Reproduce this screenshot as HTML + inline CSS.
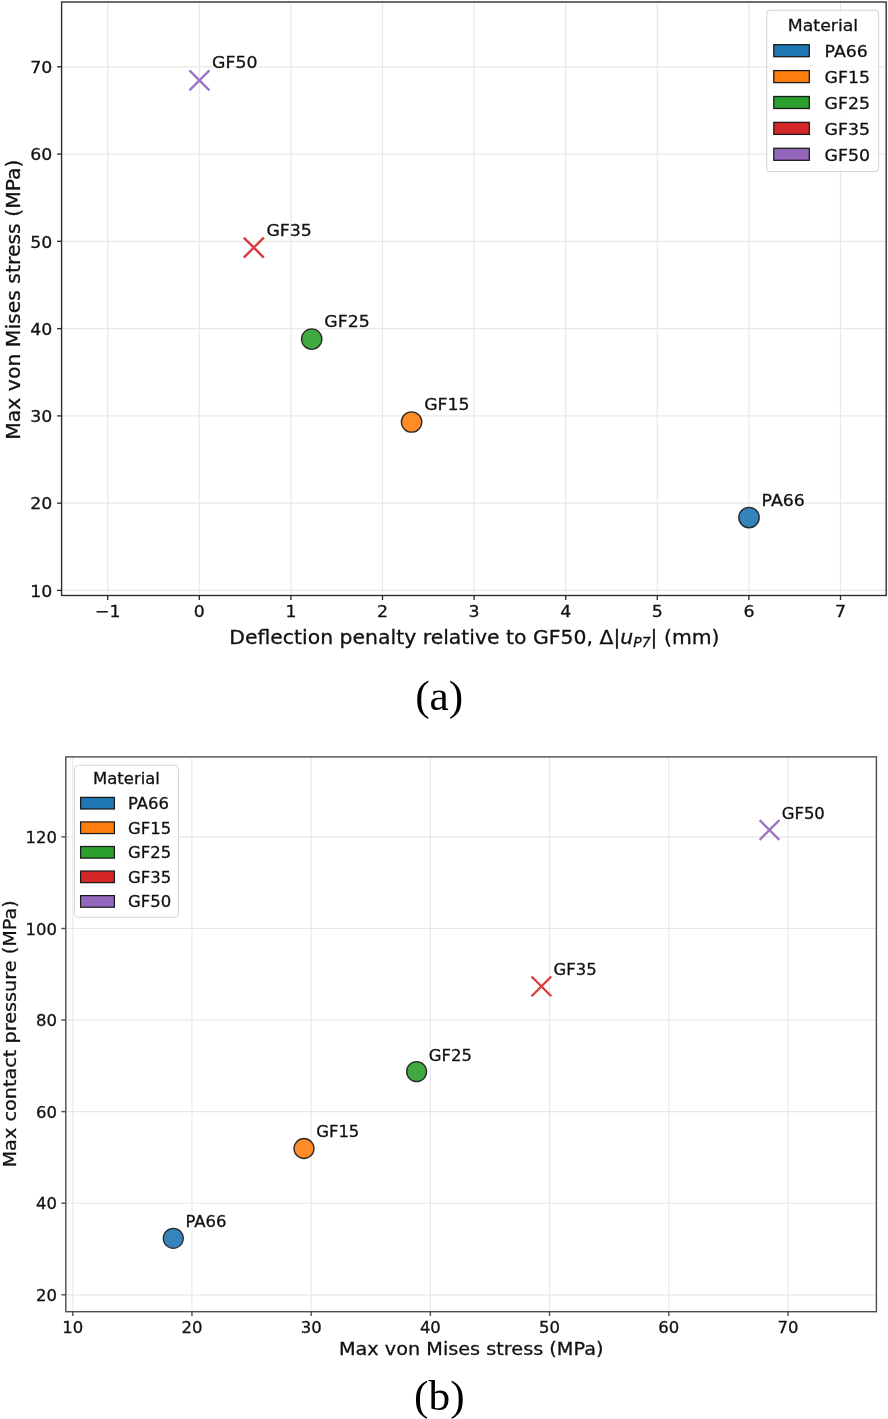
<!DOCTYPE html>
<html lang="en"><head><meta charset="utf-8"><title>Figure</title>
<style>html,body{margin:0;padding:0;background:#fff}svg{display:block}text{font-family:'DejaVu Sans', 'Liberation Sans', sans-serif}</style></head><body>
<svg width="888" height="1419" viewBox="0 0 888 1419">
<defs><filter id="soft" x="0" y="0" width="100%" height="100%" filterUnits="userSpaceOnUse" color-interpolation-filters="sRGB"><feGaussianBlur stdDeviation="0.4"/></filter></defs>
<rect width="888" height="1419" fill="#fff"/>
<g filter="url(#soft)">
<rect width="888" height="1419" fill="#fff"/>
<g id="chart-a">
<line x1="107.7" y1="2.0" x2="107.7" y2="595.5" stroke="#e8e8e8" stroke-width="1.2"/>
<line x1="199.3" y1="2.0" x2="199.3" y2="595.5" stroke="#e8e8e8" stroke-width="1.2"/>
<line x1="290.9" y1="2.0" x2="290.9" y2="595.5" stroke="#e8e8e8" stroke-width="1.2"/>
<line x1="382.5" y1="2.0" x2="382.5" y2="595.5" stroke="#e8e8e8" stroke-width="1.2"/>
<line x1="474.1" y1="2.0" x2="474.1" y2="595.5" stroke="#e8e8e8" stroke-width="1.2"/>
<line x1="565.7" y1="2.0" x2="565.7" y2="595.5" stroke="#e8e8e8" stroke-width="1.2"/>
<line x1="657.3" y1="2.0" x2="657.3" y2="595.5" stroke="#e8e8e8" stroke-width="1.2"/>
<line x1="748.9" y1="2.0" x2="748.9" y2="595.5" stroke="#e8e8e8" stroke-width="1.2"/>
<line x1="840.5" y1="2.0" x2="840.5" y2="595.5" stroke="#e8e8e8" stroke-width="1.2"/>
<line x1="61.6" y1="590.42" x2="886.2" y2="590.42" stroke="#e8e8e8" stroke-width="1.2"/>
<line x1="61.6" y1="503.15" x2="886.2" y2="503.15" stroke="#e8e8e8" stroke-width="1.2"/>
<line x1="61.6" y1="415.88" x2="886.2" y2="415.88" stroke="#e8e8e8" stroke-width="1.2"/>
<line x1="61.6" y1="328.61" x2="886.2" y2="328.61" stroke="#e8e8e8" stroke-width="1.2"/>
<line x1="61.6" y1="241.34" x2="886.2" y2="241.34" stroke="#e8e8e8" stroke-width="1.2"/>
<line x1="61.6" y1="154.07" x2="886.2" y2="154.07" stroke="#e8e8e8" stroke-width="1.2"/>
<line x1="61.6" y1="66.8" x2="886.2" y2="66.8" stroke="#e8e8e8" stroke-width="1.2"/>
<circle cx="749" cy="517.5" r="10.2" fill="#1f77b4" fill-opacity="0.9" stroke="#1a1a1a" stroke-opacity="0.9" stroke-width="1.35"/>
<text transform="translate(761.6 505.5) scale(1 0.955)" font-size="17.33" fill="#111" stroke="#111" stroke-width="0.3">PA66</text>
<circle cx="411.6" cy="422" r="10.2" fill="#ff7f0e" fill-opacity="0.9" stroke="#1a1a1a" stroke-opacity="0.9" stroke-width="1.35"/>
<text transform="translate(424.2 410.0) scale(1 0.955)" font-size="17.33" fill="#111" stroke="#111" stroke-width="0.3">GF15</text>
<circle cx="311.7" cy="339.1" r="10.2" fill="#2ca02c" fill-opacity="0.9" stroke="#1a1a1a" stroke-opacity="0.9" stroke-width="1.35"/>
<text transform="translate(324.3 327.1) scale(1 0.955)" font-size="17.33" fill="#111" stroke="#111" stroke-width="0.3">GF25</text>
<path d="M243.8 237.6L263.8 257.6M243.8 257.6L263.8 237.6" stroke="#d62728" stroke-opacity="0.9" stroke-width="2.4" fill="none" stroke-linecap="butt"/>
<text transform="translate(266.4 235.6) scale(1 0.955)" font-size="17.33" fill="#111" stroke="#111" stroke-width="0.3">GF35</text>
<path d="M189.4 70.4L209.4 90.4M189.4 90.4L209.4 70.4" stroke="#9467bd" stroke-opacity="0.9" stroke-width="2.4" fill="none" stroke-linecap="butt"/>
<text transform="translate(212.0 68.4) scale(1 0.955)" font-size="17.33" fill="#111" stroke="#111" stroke-width="0.3">GF50</text>
<rect x="766.7" y="10.2" width="111.9" height="161.3" rx="3.5" fill="#fff" fill-opacity="0.8" stroke="#cccccc" stroke-opacity="0.8" stroke-width="1.07"/>
<text transform="translate(823 31.1) scale(1 0.955)" font-size="17.33" fill="#111" stroke="#111" stroke-width="0.3" text-anchor="middle">Material</text>
<rect x="773.8" y="44.7" width="35.5" height="12" fill="#1f77b4" stroke="#1a1a1a" stroke-width="1.3"/>
<text transform="translate(824.6 56.9) scale(1 0.955)" font-size="17.33" fill="#111" stroke="#111" stroke-width="0.3">PA66</text>
<rect x="773.8" y="70.6" width="35.5" height="12" fill="#ff7f0e" stroke="#1a1a1a" stroke-width="1.3"/>
<text transform="translate(824.6 82.8) scale(1 0.955)" font-size="17.33" fill="#111" stroke="#111" stroke-width="0.3">GF15</text>
<rect x="773.8" y="96.5" width="35.5" height="12" fill="#2ca02c" stroke="#1a1a1a" stroke-width="1.3"/>
<text transform="translate(824.6 108.7) scale(1 0.955)" font-size="17.33" fill="#111" stroke="#111" stroke-width="0.3">GF25</text>
<rect x="773.8" y="122.39999999999999" width="35.5" height="12" fill="#d62728" stroke="#1a1a1a" stroke-width="1.3"/>
<text transform="translate(824.6 134.6) scale(1 0.955)" font-size="17.33" fill="#111" stroke="#111" stroke-width="0.3">GF35</text>
<rect x="773.8" y="148.3" width="35.5" height="12" fill="#9467bd" stroke="#1a1a1a" stroke-width="1.3"/>
<text transform="translate(824.6 160.5) scale(1 0.955)" font-size="17.33" fill="#111" stroke="#111" stroke-width="0.3">GF50</text>
<rect x="61.6" y="2.0" width="824.6" height="593.5" fill="none" stroke="#2a2a2a" stroke-width="1.35"/>
<line x1="107.7" y1="595.5" x2="107.7" y2="600.0" stroke="#2a2a2a" stroke-width="1.35"/>
<text transform="translate(107.7 617.4) scale(1 0.955)" font-size="17.33" fill="#111" stroke="#111" stroke-width="0.3" text-anchor="middle">−1</text>
<line x1="199.3" y1="595.5" x2="199.3" y2="600.0" stroke="#2a2a2a" stroke-width="1.35"/>
<text transform="translate(199.3 617.4) scale(1 0.955)" font-size="17.33" fill="#111" stroke="#111" stroke-width="0.3" text-anchor="middle">0</text>
<line x1="290.9" y1="595.5" x2="290.9" y2="600.0" stroke="#2a2a2a" stroke-width="1.35"/>
<text transform="translate(290.9 617.4) scale(1 0.955)" font-size="17.33" fill="#111" stroke="#111" stroke-width="0.3" text-anchor="middle">1</text>
<line x1="382.5" y1="595.5" x2="382.5" y2="600.0" stroke="#2a2a2a" stroke-width="1.35"/>
<text transform="translate(382.5 617.4) scale(1 0.955)" font-size="17.33" fill="#111" stroke="#111" stroke-width="0.3" text-anchor="middle">2</text>
<line x1="474.1" y1="595.5" x2="474.1" y2="600.0" stroke="#2a2a2a" stroke-width="1.35"/>
<text transform="translate(474.1 617.4) scale(1 0.955)" font-size="17.33" fill="#111" stroke="#111" stroke-width="0.3" text-anchor="middle">3</text>
<line x1="565.7" y1="595.5" x2="565.7" y2="600.0" stroke="#2a2a2a" stroke-width="1.35"/>
<text transform="translate(565.7 617.4) scale(1 0.955)" font-size="17.33" fill="#111" stroke="#111" stroke-width="0.3" text-anchor="middle">4</text>
<line x1="657.3" y1="595.5" x2="657.3" y2="600.0" stroke="#2a2a2a" stroke-width="1.35"/>
<text transform="translate(657.3 617.4) scale(1 0.955)" font-size="17.33" fill="#111" stroke="#111" stroke-width="0.3" text-anchor="middle">5</text>
<line x1="748.9" y1="595.5" x2="748.9" y2="600.0" stroke="#2a2a2a" stroke-width="1.35"/>
<text transform="translate(748.9 617.4) scale(1 0.955)" font-size="17.33" fill="#111" stroke="#111" stroke-width="0.3" text-anchor="middle">6</text>
<line x1="840.5" y1="595.5" x2="840.5" y2="600.0" stroke="#2a2a2a" stroke-width="1.35"/>
<text transform="translate(840.5 617.4) scale(1 0.955)" font-size="17.33" fill="#111" stroke="#111" stroke-width="0.3" text-anchor="middle">7</text>
<line x1="57.1" y1="590.42" x2="61.6" y2="590.42" stroke="#2a2a2a" stroke-width="1.35"/>
<text transform="translate(52.3 596.62) scale(1 0.955)" font-size="17.33" fill="#111" stroke="#111" stroke-width="0.3" text-anchor="end">10</text>
<line x1="57.1" y1="503.15" x2="61.6" y2="503.15" stroke="#2a2a2a" stroke-width="1.35"/>
<text transform="translate(52.3 509.35) scale(1 0.955)" font-size="17.33" fill="#111" stroke="#111" stroke-width="0.3" text-anchor="end">20</text>
<line x1="57.1" y1="415.88" x2="61.6" y2="415.88" stroke="#2a2a2a" stroke-width="1.35"/>
<text transform="translate(52.3 422.08) scale(1 0.955)" font-size="17.33" fill="#111" stroke="#111" stroke-width="0.3" text-anchor="end">30</text>
<line x1="57.1" y1="328.61" x2="61.6" y2="328.61" stroke="#2a2a2a" stroke-width="1.35"/>
<text transform="translate(52.3 334.81) scale(1 0.955)" font-size="17.33" fill="#111" stroke="#111" stroke-width="0.3" text-anchor="end">40</text>
<line x1="57.1" y1="241.34" x2="61.6" y2="241.34" stroke="#2a2a2a" stroke-width="1.35"/>
<text transform="translate(52.3 247.54) scale(1 0.955)" font-size="17.33" fill="#111" stroke="#111" stroke-width="0.3" text-anchor="end">50</text>
<line x1="57.1" y1="154.07" x2="61.6" y2="154.07" stroke="#2a2a2a" stroke-width="1.35"/>
<text transform="translate(52.3 160.27) scale(1 0.955)" font-size="17.33" fill="#111" stroke="#111" stroke-width="0.3" text-anchor="end">60</text>
<line x1="57.1" y1="66.8" x2="61.6" y2="66.8" stroke="#2a2a2a" stroke-width="1.35"/>
<text transform="translate(52.3 73.0) scale(1 0.955)" font-size="17.33" fill="#111" stroke="#111" stroke-width="0.3" text-anchor="end">70</text>
<text transform="translate(474.4 643.7) scale(1 0.955)" font-size="20.4" fill="#111" stroke="#111" stroke-width="0.3" text-anchor="middle">Deflection penalty relative to GF50, Δ|<tspan font-style="italic">u</tspan><tspan font-style="italic" font-size="14" dy="3.2">P7</tspan><tspan dy="-3.2">| (mm)</tspan></text>
<text transform="translate(20.2 299.6) rotate(-90) scale(1 0.955)" font-size="20.4" fill="#111" stroke="#111" stroke-width="0.3" text-anchor="middle">Max von Mises stress (MPa)</text>
</g>
<text transform="translate(439.2 710) scale(1 0.965)" font-size="43.4" text-anchor="middle" fill="#000" style="font-family:'Liberation Serif', 'DejaVu Serif', serif">(a)</text>
<g id="chart-b">
<line x1="72.75" y1="756.9" x2="72.75" y2="1311.7" stroke="#e8e8e8" stroke-width="1.15"/>
<line x1="191.95" y1="756.9" x2="191.95" y2="1311.7" stroke="#e8e8e8" stroke-width="1.15"/>
<line x1="311.15" y1="756.9" x2="311.15" y2="1311.7" stroke="#e8e8e8" stroke-width="1.15"/>
<line x1="430.35" y1="756.9" x2="430.35" y2="1311.7" stroke="#e8e8e8" stroke-width="1.15"/>
<line x1="549.55" y1="756.9" x2="549.55" y2="1311.7" stroke="#e8e8e8" stroke-width="1.15"/>
<line x1="668.75" y1="756.9" x2="668.75" y2="1311.7" stroke="#e8e8e8" stroke-width="1.15"/>
<line x1="787.95" y1="756.9" x2="787.95" y2="1311.7" stroke="#e8e8e8" stroke-width="1.15"/>
<line x1="65.8" y1="1294.8" x2="876.4" y2="1294.8" stroke="#e8e8e8" stroke-width="1.15"/>
<line x1="65.8" y1="1203.22" x2="876.4" y2="1203.22" stroke="#e8e8e8" stroke-width="1.15"/>
<line x1="65.8" y1="1111.64" x2="876.4" y2="1111.64" stroke="#e8e8e8" stroke-width="1.15"/>
<line x1="65.8" y1="1020.06" x2="876.4" y2="1020.06" stroke="#e8e8e8" stroke-width="1.15"/>
<line x1="65.8" y1="928.48" x2="876.4" y2="928.48" stroke="#e8e8e8" stroke-width="1.15"/>
<line x1="65.8" y1="836.9" x2="876.4" y2="836.9" stroke="#e8e8e8" stroke-width="1.15"/>
<circle cx="173.3" cy="1238.3" r="10.0" fill="#1f77b4" fill-opacity="0.9" stroke="#1a1a1a" stroke-opacity="0.9" stroke-width="1.3"/>
<text transform="translate(185.5 1227.2) scale(1 0.955)" font-size="16.45" fill="#111" stroke="#111" stroke-width="0.3">PA66</text>
<circle cx="304" cy="1148.5" r="10.0" fill="#ff7f0e" fill-opacity="0.9" stroke="#1a1a1a" stroke-opacity="0.9" stroke-width="1.3"/>
<text transform="translate(316.2 1137.4) scale(1 0.955)" font-size="16.45" fill="#111" stroke="#111" stroke-width="0.3">GF15</text>
<circle cx="416.6" cy="1071.6" r="10.0" fill="#2ca02c" fill-opacity="0.9" stroke="#1a1a1a" stroke-opacity="0.9" stroke-width="1.3"/>
<text transform="translate(428.8 1060.5) scale(1 0.955)" font-size="16.45" fill="#111" stroke="#111" stroke-width="0.3">GF25</text>
<path d="M531.55 976.55L551.25 996.25M531.55 996.25L551.25 976.55" stroke="#d62728" stroke-opacity="0.9" stroke-width="2.3" fill="none" stroke-linecap="butt"/>
<text transform="translate(553.6 975.3) scale(1 0.955)" font-size="16.45" fill="#111" stroke="#111" stroke-width="0.3">GF35</text>
<path d="M759.65 820.15L779.35 839.85M759.65 839.85L779.35 820.15" stroke="#9467bd" stroke-opacity="0.9" stroke-width="2.3" fill="none" stroke-linecap="butt"/>
<text transform="translate(781.7 818.9) scale(1 0.955)" font-size="16.45" fill="#111" stroke="#111" stroke-width="0.3">GF50</text>
<rect x="74.5" y="765.3" width="103.9" height="152" rx="3.3" fill="#fff" fill-opacity="0.8" stroke="#cccccc" stroke-opacity="0.8" stroke-width="1.0"/>
<text transform="translate(126.5 784.4) scale(1 0.955)" font-size="16.45" fill="#111" stroke="#111" stroke-width="0.3" text-anchor="middle">Material</text>
<rect x="80.6" y="797.4" width="33.8" height="11.6" fill="#1f77b4" stroke="#1a1a1a" stroke-width="1.25"/>
<text transform="translate(128.0 809.2) scale(1 0.955)" font-size="16.45" fill="#111" stroke="#111" stroke-width="0.3">PA66</text>
<rect x="80.6" y="821.9499999999999" width="33.8" height="11.6" fill="#ff7f0e" stroke="#1a1a1a" stroke-width="1.25"/>
<text transform="translate(128.0 833.75) scale(1 0.955)" font-size="16.45" fill="#111" stroke="#111" stroke-width="0.3">GF15</text>
<rect x="80.6" y="846.5" width="33.8" height="11.6" fill="#2ca02c" stroke="#1a1a1a" stroke-width="1.25"/>
<text transform="translate(128.0 858.3) scale(1 0.955)" font-size="16.45" fill="#111" stroke="#111" stroke-width="0.3">GF25</text>
<rect x="80.6" y="871.05" width="33.8" height="11.6" fill="#d62728" stroke="#1a1a1a" stroke-width="1.25"/>
<text transform="translate(128.0 882.85) scale(1 0.955)" font-size="16.45" fill="#111" stroke="#111" stroke-width="0.3">GF35</text>
<rect x="80.6" y="895.6" width="33.8" height="11.6" fill="#9467bd" stroke="#1a1a1a" stroke-width="1.25"/>
<text transform="translate(128.0 907.4) scale(1 0.955)" font-size="16.45" fill="#111" stroke="#111" stroke-width="0.3">GF50</text>
<rect x="65.8" y="756.9" width="810.6" height="554.8000000000001" fill="none" stroke="#4d4d4d" stroke-width="1.4"/>
<line x1="72.75" y1="1311.7" x2="72.75" y2="1316.1000000000001" stroke="#4d4d4d" stroke-width="1.4"/>
<text transform="translate(72.75 1332.5) scale(1 0.955)" font-size="16.45" fill="#111" stroke="#111" stroke-width="0.3" text-anchor="middle">10</text>
<line x1="191.95" y1="1311.7" x2="191.95" y2="1316.1000000000001" stroke="#4d4d4d" stroke-width="1.4"/>
<text transform="translate(191.95 1332.5) scale(1 0.955)" font-size="16.45" fill="#111" stroke="#111" stroke-width="0.3" text-anchor="middle">20</text>
<line x1="311.15" y1="1311.7" x2="311.15" y2="1316.1000000000001" stroke="#4d4d4d" stroke-width="1.4"/>
<text transform="translate(311.15 1332.5) scale(1 0.955)" font-size="16.45" fill="#111" stroke="#111" stroke-width="0.3" text-anchor="middle">30</text>
<line x1="430.35" y1="1311.7" x2="430.35" y2="1316.1000000000001" stroke="#4d4d4d" stroke-width="1.4"/>
<text transform="translate(430.35 1332.5) scale(1 0.955)" font-size="16.45" fill="#111" stroke="#111" stroke-width="0.3" text-anchor="middle">40</text>
<line x1="549.55" y1="1311.7" x2="549.55" y2="1316.1000000000001" stroke="#4d4d4d" stroke-width="1.4"/>
<text transform="translate(549.55 1332.5) scale(1 0.955)" font-size="16.45" fill="#111" stroke="#111" stroke-width="0.3" text-anchor="middle">50</text>
<line x1="668.75" y1="1311.7" x2="668.75" y2="1316.1000000000001" stroke="#4d4d4d" stroke-width="1.4"/>
<text transform="translate(668.75 1332.5) scale(1 0.955)" font-size="16.45" fill="#111" stroke="#111" stroke-width="0.3" text-anchor="middle">60</text>
<line x1="787.95" y1="1311.7" x2="787.95" y2="1316.1000000000001" stroke="#4d4d4d" stroke-width="1.4"/>
<text transform="translate(787.95 1332.5) scale(1 0.955)" font-size="16.45" fill="#111" stroke="#111" stroke-width="0.3" text-anchor="middle">70</text>
<line x1="61.4" y1="1294.8" x2="65.8" y2="1294.8" stroke="#4d4d4d" stroke-width="1.4"/>
<text transform="translate(57 1301.0) scale(1 0.955)" font-size="16.45" fill="#111" stroke="#111" stroke-width="0.3" text-anchor="end">20</text>
<line x1="61.4" y1="1203.22" x2="65.8" y2="1203.22" stroke="#4d4d4d" stroke-width="1.4"/>
<text transform="translate(57 1209.42) scale(1 0.955)" font-size="16.45" fill="#111" stroke="#111" stroke-width="0.3" text-anchor="end">40</text>
<line x1="61.4" y1="1111.64" x2="65.8" y2="1111.64" stroke="#4d4d4d" stroke-width="1.4"/>
<text transform="translate(57 1117.84) scale(1 0.955)" font-size="16.45" fill="#111" stroke="#111" stroke-width="0.3" text-anchor="end">60</text>
<line x1="61.4" y1="1020.06" x2="65.8" y2="1020.06" stroke="#4d4d4d" stroke-width="1.4"/>
<text transform="translate(57 1026.26) scale(1 0.955)" font-size="16.45" fill="#111" stroke="#111" stroke-width="0.3" text-anchor="end">80</text>
<line x1="61.4" y1="928.48" x2="65.8" y2="928.48" stroke="#4d4d4d" stroke-width="1.4"/>
<text transform="translate(57 934.68) scale(1 0.955)" font-size="16.45" fill="#111" stroke="#111" stroke-width="0.3" text-anchor="end">100</text>
<line x1="61.4" y1="836.9" x2="65.8" y2="836.9" stroke="#4d4d4d" stroke-width="1.4"/>
<text transform="translate(57 843.1) scale(1 0.955)" font-size="16.45" fill="#111" stroke="#111" stroke-width="0.3" text-anchor="end">120</text>
<text transform="translate(471.2 1354.8) scale(1 0.955)" font-size="19.25" fill="#111" stroke="#111" stroke-width="0.3" text-anchor="middle">Max von Mises stress (MPa)</text>
<text transform="translate(15.9 1033.8) rotate(-90) scale(1 0.955)" font-size="19.25" fill="#111" stroke="#111" stroke-width="0.3" text-anchor="middle">Max contact pressure (MPa)</text>
</g>
<text transform="translate(439.3 1410) scale(1 0.965)" font-size="43.4" text-anchor="middle" fill="#000" style="font-family:'Liberation Serif', 'DejaVu Serif', serif">(b)</text>
</g>
</svg></body></html>
